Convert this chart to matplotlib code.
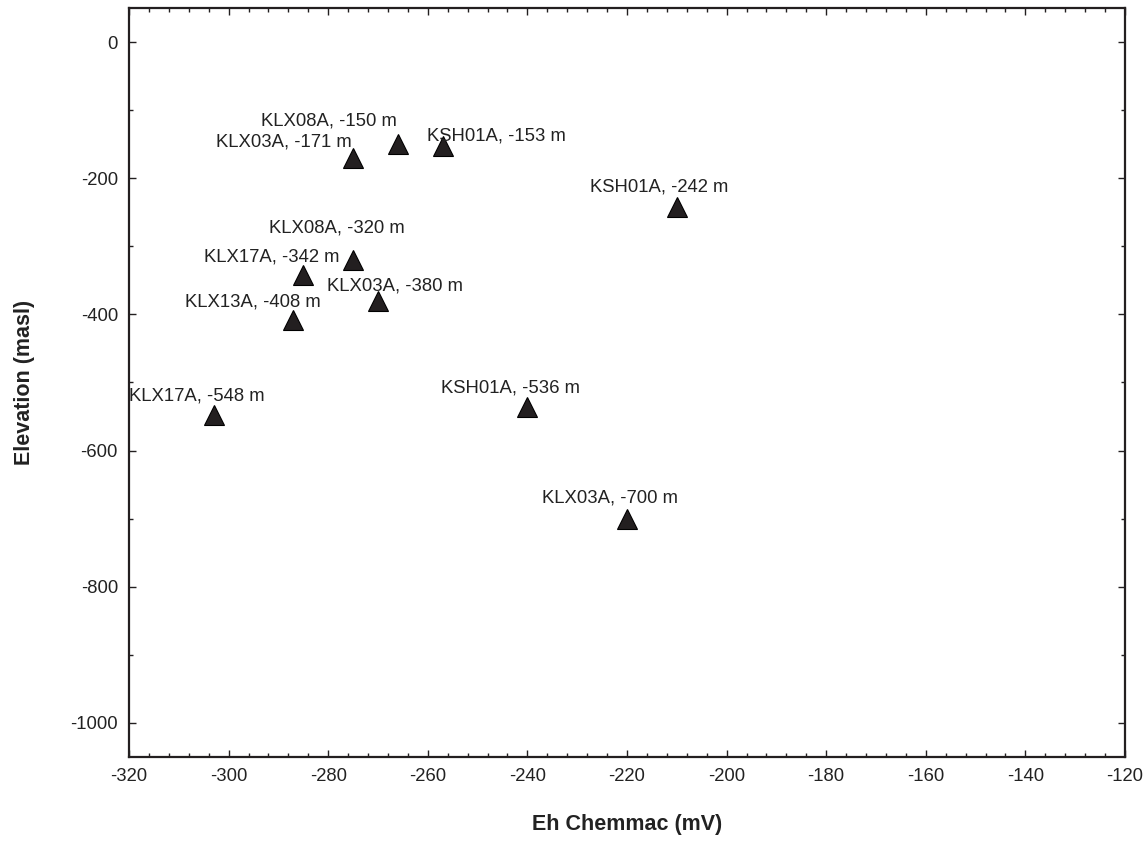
import matplotlib
matplotlib.use("Agg")
import matplotlib.pyplot as plt
from matplotlib.ticker import MultipleLocator

plt.rcParams["font.family"] = ["Liberation Sans", "DejaVu Sans"]
plt.rcParams["axes.unicode_minus"] = False

# Eh (mV) and elevation (masl) for each borehole section
boreholes = ["KLX08A", "KSH01A", "KLX03A", "KSH01A", "KLX08A", "KLX17A",
             "KLX03A", "KLX13A", "KLX17A", "KSH01A", "KLX03A"]
eh = [-266, -257, -275, -210, -275, -285, -270, -287, -303, -240, -220]
elevation = [-150, -153, -171, -242, -320, -342, -380, -408, -548, -536, -700]

# label offsets in points (dx, dy) from each marker
offsets = [(-50, 17), (39, 7), (-50, 12), (-13, 14), (-12, 23), (-23, 13),
           (12, 11), (-29, 13), (-12, 14), (-12, 14), (-12, 15)]

ink = "#231f20"

fig = plt.figure(figsize=(11.45, 8.41), dpi=100)
ax = fig.add_axes([0.1127, 0.0999, 0.9825 - 0.1127, 0.9905 - 0.0999])

ax.plot(eh, elevation, linestyle="none", marker="^", markersize=14,
        color=ink, markeredgecolor="black", markeredgewidth=0.8)

for name, x, y, (dx, dy) in zip(boreholes, eh, elevation, offsets):
    ax.annotate("%s, %d m" % (name, y), (x, y), xytext=(dx, dy),
                textcoords="offset points", ha="center", va="center",
                fontsize=13.3, color="#222222")

ax.set_xlim(-320, -120)
ax.set_ylim(-1050, 50)
ax.xaxis.set_major_locator(MultipleLocator(20))
ax.xaxis.set_minor_locator(MultipleLocator(4))
ax.yaxis.set_major_locator(MultipleLocator(200))
ax.yaxis.set_minor_locator(MultipleLocator(100))

ax.tick_params(which="both", direction="in", top=True, right=True,
               colors=ink, labelcolor="#222222", labelsize=13.3, pad=8)
ax.tick_params(which="major", length=5, width=1)
ax.tick_params(which="minor", length=3, width=1)
for s in ax.spines.values():
    s.set_linewidth(1.6)
    s.set_color(ink)

ax.set_xlabel("Eh Chemmac (mV)", fontsize=15.5, fontweight="bold",
              color="#222222", labelpad=21)
ax.set_ylabel("Elevation (masl)", fontsize=15.5, fontweight="bold",
              color="#222222")
ax.yaxis.set_label_coords(-0.094, 0.5)

fig.savefig("out.png", dpi=100)
